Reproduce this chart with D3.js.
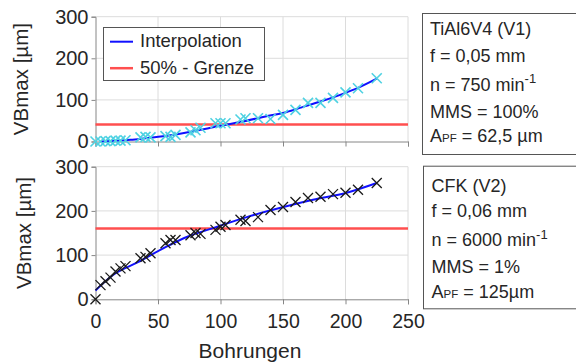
<!DOCTYPE html>
<html><head><meta charset="utf-8">
<script src="https://cdn.jsdelivr.net/npm/d3@7"></script>
<style>
html,body{margin:0;padding:0;background:#fff;}
svg{display:block;font-family:'Liberation Sans',Arial,sans-serif;}
</style></head>
<body><svg id="c" width="576" height="362"></svg>
<script>
// ---- data ----
const bohrungen = [0,4,8,12,16,20,24,36,40,44,56,60,64,76,80,84,96,100,104,116,120,130,140,150,160,170,180,190,200,210,225];
const vbTi = [0,0,1,1,2,2,3,10,11,10,13,11,16,22,27,33,44,44,44,53,56,56,54,64,76,93,93,105,118,128,152];
const vbCfk = [0,32,41,49,63,70,75,93,96,104,127,134,134,145,150,148,157,164,168,180,177,186,202,209,220,229,232,238,241,248,263];
const fitTiX = [4,28,40,60,84,100,116,136,153,165,180,200,210,225];
const fitTiY = [0,4,8,15,28,38,47,60,71,82,96,117,129,151];
const fitCfkX = [0,14,34,56,74,94,121,148,174,201,225];
const fitCfkY = [20,55,84,118,142,161,186,207,225,241,263];
const grenzeTi = 41;
const grenzeCfk = 160;
const xTicks = [0,50,100,150,200,250];
const yTicks = [0,100,200,300];
const legendLabels = ["Interpolation","50% - Grenze"];
const box1 = ["TiAl6V4 (V1)","f = 0,05 mm","n = 750 min","MMS = 100%","A"];
const box2 = ["CFK (V2)","f = 0,06 mm","n = 6000 min","MMS = 1%","A"];
const box1Tail = " = 62,5 µm", box2Tail = " = 125µm";

const svg = d3.select("#c");
const x = d3.scaleLinear().domain([0,250]).range([95.5,408]);
const panels = [
  {y: d3.scaleLinear().domain([0,300]).range([141.5,16.7]), vals: vbTi, fx: fitTiX, fy: fitTiY, g: grenzeTi, col: "#4fd2e2", sw:1.6, labels:false, titleX:28, box: box1, tail: box1Tail, bx:422, by:13, bh:141, tx:430, base:[35,61.7,90.7,118.3,141.7]},
  {y: d3.scaleLinear().domain([0,300]).range([299.3,166.7]), vals: vbCfk, fx: fitCfkX, fy: fitCfkY, g: grenzeCfk, col: "#1a1a1a", sw:1.3, labels:true, titleX:31, box: box2, tail: box2Tail, bx:423, by:165.7, bh:142.6, tx:431.5, base:[191.7,216.7,246,273.3,298.3]}
];
const textCol = "#262626", axisCol = "#868686", gridCol = "#dcdcdc";

panels.forEach(p => {
  const g = svg.append("g");
  const [y0,y1] = p.y.range();
  // grid
  g.selectAll(".gx").data(xTicks.slice(1)).enter().append("line")
    .attr("x1", d=>x(d)).attr("x2", d=>x(d)).attr("y1", y0).attr("y2", y1)
    .attr("stroke", gridCol).attr("stroke-width",1);
  g.selectAll(".gy").data(yTicks.slice(1)).enter().append("line")
    .attr("x1", x(0)).attr("x2", x(250)).attr("y1", d=>p.y(d)).attr("y2", d=>p.y(d))
    .attr("stroke", gridCol).attr("stroke-width",1);
  // axes
  const ax = g.append("g").attr("transform",`translate(0,${y0})`)
    .call(d3.axisBottom(x).tickValues(xTicks).tickSize(5).tickPadding(10).tickFormat(p.labels? d3.format("d") : ""));
  const ay = g.append("g").attr("transform",`translate(${x(0)},0)`)
    .call(d3.axisLeft(p.y).tickValues(yTicks).tickSize(4).tickPadding(3));
  [ax,ay].forEach((a,k) => {
    a.select(".domain").attr("stroke", axisCol);
    a.selectAll(".tick line").attr("stroke", axisCol);
    a.selectAll(".tick text").attr("fill", textCol).style("font-size", k? "20px":"19.5px").style("font-family","'Liberation Sans',Arial,sans-serif");
  });
  // red limit
  g.append("line").attr("x1", x(0)).attr("x2", x(250)).attr("y1", p.y(p.g)).attr("y2", p.y(p.g))
    .attr("stroke","#ff4f4f").attr("stroke-width",2.5);
  // fit
  const line = d3.line().x((d,i)=>x(p.fx[i])).y((d,i)=>p.y(p.fy[i])).curve(d3.curveMonotoneX);
  g.append("path").attr("d", line(p.fx)).attr("fill","none").attr("stroke","#1010ff").attr("stroke-width",2);
  // crosses
  const s = 5;
  g.selectAll(".pt").data(bohrungen).enter().append("path")
    .attr("d",(d,i)=>{const cx=x(d), cy=p.y(p.vals[i]); return `M${cx-s},${cy-s}L${cx+s},${cy+s}M${cx-s},${cy+s}L${cx+s},${cy-s}`;})
    .attr("stroke", p.col).attr("stroke-width",p.sw).attr("fill","none");
  // y title
  g.append("text").attr("transform",`translate(${p.titleX},${(y0+y1)/2}) rotate(-90)`)
    .attr("text-anchor","middle").attr("fill",textCol).style("font-size","20.5px").text("VBmax [µm]");
  // info box
  g.append("rect").attr("x",p.bx+0.5).attr("y",p.by+0.5).attr("width",200).attr("height",p.bh)
    .attr("fill","#fff").attr("stroke","#555").attr("stroke-width",1);
  p.box.forEach((t,i)=>{
    const tx = g.append("text").attr("x",p.tx).attr("y",p.base[i]).attr("fill",textCol).style("font-size","18px");
    tx.append("tspan").text(t);
    if(i===2){ tx.append("tspan").attr("dy",-7.5).style("font-size","13px").text("-1"); }
    if(i===4){ tx.append("tspan").style("font-size","11.5px").text("PF"); tx.append("tspan").text(p.tail); }
  });
});

// x title
svg.append("text").attr("x",250).attr("y",358).attr("text-anchor","middle").attr("fill",textCol)
  .style("font-size","21px").text("Bohrungen");

// legend
const lg = svg.append("g");
lg.append("rect").attr("x",103.5).attr("y",27.5).attr("width",161).attr("height",53)
  .attr("fill","#fff").attr("stroke","#555").attr("stroke-width",1);
const legCols = ["#1010ff","#ff4f4f"];
legendLabels.forEach((t,i)=>{
  const yy = 41.7 + i*26.5;
  lg.append("line").attr("x1",110).attr("x2",133).attr("y1",yy).attr("y2",yy)
    .attr("stroke",legCols[i]).attr("stroke-width", i? 2.5:2);
  lg.append("text").attr("x",140).attr("y",yy+5.5).attr("fill",textCol).style("font-size","18.5px").text(t);
});
</script></body></html>
